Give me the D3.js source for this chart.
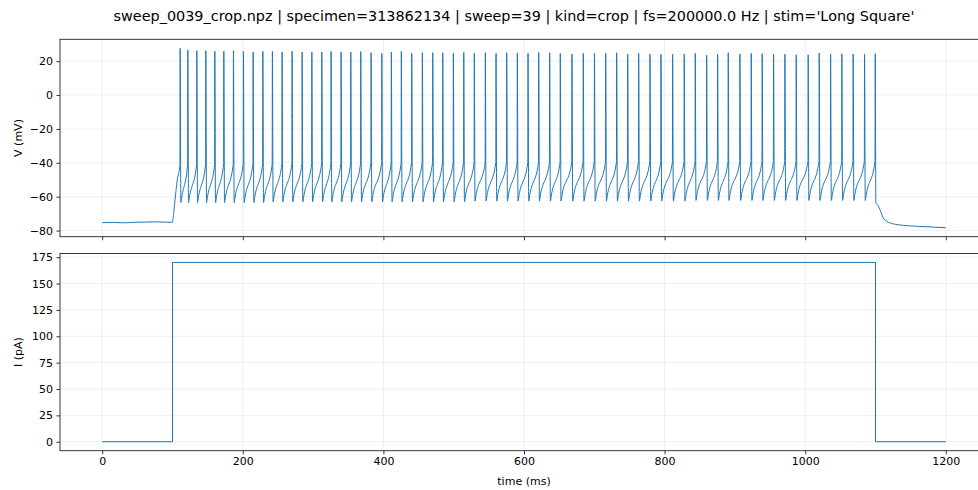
<!DOCTYPE html>
<html>
<head>
<meta charset="utf-8">
<script src="https://cdn.jsdelivr.net/npm/d3@7"></script>
<style>
  body { margin: 0; background: #fff; }
  svg { display: block; }
  text { font-family: "DejaVu Sans", sans-serif; fill: #000; }
</style>
</head>
<body>
<svg id="fig" width="978" height="490"></svg>
<script>
// ---- data -------------------------------------------------------------
const titleText = "sweep_0039_crop.npz | specimen=313862134 | sweep=39 | kind=crop | fs=200000.0 Hz | stim='Long Square'";

const timeTicks = [0, 200, 400, 600, 800, 1000, 1200];
const voltTicks = [-80, -60, -40, -20, 0, 20];
const currTicks = [0, 25, 50, 75, 100, 125, 150, 175];

// membrane potential before the step (t, mV)
const restTrace = [[0, -75.3], [15, -75.2], [30, -75.4], [45, -75.1], [60, -75.0],
                   [75, -74.8], [90, -75.0], [100, -75.1]];
// depolarisation at step onset up to the first spike
const onsetRise = [[100.6, -73.5], [102, -68.5], [103.6, -62], [106.8, -50]];

// action potentials: time of peak (ms) and peak voltage (mV)
const spikeTimes = [110.9, 121.8, 134.6, 147.4, 160.2, 173.0, 186.7, 200.9, 214.7, 228.5,
  242.1, 255.9, 270.1, 284.4, 298.2, 312.4, 325.6, 339.8, 353.6, 367.8,
  382.5, 397.7, 411.3, 425.5, 440.3, 455.4, 470.2, 484.4, 499.5, 514.3,
  529.3, 545.0, 560.2, 575.4, 590.5, 605.7, 620.9, 636.5, 651.6, 668.2,
  684.3, 700.2, 716.2, 731.8, 747.5, 763.1, 779.2, 794.8, 811.4, 827.9,
  843.6, 859.8, 875.4, 890.5, 907.1, 923.2, 938.8, 955.0, 971.1, 987.2,
  1004.2, 1019.9, 1036.1, 1052.1, 1068.2, 1084.4, 1099.6];
const spikePeaks = [27.6, 26.6, 26.2, 26.2, 25.9, 25.9, 26.2, 25.8, 25.4, 25.8,
  25.8, 25.4, 25.8, 25.4, 25.4, 25.4, 25.8, 25.4, 25.4, 25.6,
  25.0, 24.6, 25.4, 25.8, 24.6, 25.0, 25.0, 25.0, 24.6, 25.2,
  24.6, 25.0, 24.6, 25.0, 24.8, 24.6, 25.2, 25.0, 24.6, 24.2,
  24.6, 24.6, 24.6, 25.0, 24.2, 24.6, 24.2, 24.0, 24.2, 24.2,
  24.6, 23.6, 24.2, 25.0, 24.2, 24.6, 24.4, 24.0, 24.2, 23.8,
  23.8, 24.8, 24.2, 24.4, 24.2, 24.2, 24.4];
// voltage where each upstroke takes off (mV)
const spikeThresholds = [-41.2, -41.0, -41.0, -41.0, -41.0, -40.8, -40.8, -40.8, -40.8, -40.8,
  -40.6, -40.6, -40.6, -40.6, -40.6, -40.4, -40.4, -40.4, -40.4, -40.4,
  -40.2, -40.2, -40.2, -40.2, -40.2, -40.0, -40.0, -40.0, -40.0, -40.0,
  -40.0, -40.0, -39.8, -39.8, -39.8, -39.8, -39.8, -39.8, -39.8, -39.8,
  -39.6, -39.6, -39.6, -39.6, -39.6, -39.6, -39.6, -39.6, -39.6, -39.6,
  -39.4, -39.4, -39.4, -39.4, -39.4, -39.4, -39.4, -39.4, -39.4, -39.4,
  -39.3, -39.3, -39.3, -39.3, -39.3, -39.3, -39.2];
// after-hyperpolarisation minimum following each spike (mV)
const spikeTroughs = [-63.4, -63.4, -63.4, -63.4, -63.4, -63.4, -63.4, -63.4, -63.4, -63.4,
  -63.0, -63.0, -63.0, -63.0, -63.0, -63.0, -63.0, -63.0, -63.0, -63.0,
  -63.0, -63.0, -63.0, -63.0, -63.0, -63.0, -63.0, -63.0, -63.0, -63.0,
  -62.6, -62.6, -62.6, -62.6, -62.6, -62.6, -62.6, -62.6, -62.6, -62.6,
  -62.6, -62.6, -62.6, -62.6, -62.6, -62.6, -62.6, -62.6, -62.6, -62.6,
  -62.2, -62.2, -62.2, -62.2, -62.2, -62.2, -62.2, -62.2, -62.2, -62.2,
  -62.2, -62.2, -62.2, -62.2, -62.2, -62.2];
// shape of one spike relative to its peak time (ms offsets)
const upstrokeLead = 0.3, troughLag = 1.0, kneeLag = 2.4, kneeRise = 3.5;
// relaxation after the step ends
const offsetDecay = [[1100.5, -63.6], [1104, -65.5], [1108, -69.5], [1111, -72.5], [1116, -74.5],
  [1125, -76.0], [1140, -76.9], [1160, -77.5], [1180, -77.9], [1200, -78.3]];

// injected current (t, pA)
const stimTimes = [0, 100, 100, 1100, 1100, 1200];
const stimAmps  = [0, 0, 170, 170, 0, 0];

// ---- assemble voltage trace ------------------------------------------
const voltTrace = [...restTrace, ...onsetRise];
spikeTimes.forEach((t, i) => {
  voltTrace.push([t - upstrokeLead, spikeThresholds[i]]);
  voltTrace.push([t, spikePeaks[i]]);
  if (i < spikeTroughs.length) {
    voltTrace.push([t + troughLag, spikeTroughs[i]]);
    voltTrace.push([t + kneeLag, spikeTroughs[i] + kneeRise]);
  }
});
voltTrace.push(...offsetDecay);
const stimTrace = stimTimes.map((t, i) => [t, stimAmps[i]]);

// ---- layout -----------------------------------------------------------
const svg = d3.select("#fig");
const left = 60, right = 988;
const topPanel = { y0: 39.3, y1: 236.7 };
const botPanel = { y0: 253.5, y1: 450.7 };
const blue = "#1f77b4";
const gridCol = "#ebebeb";
const fontPx = 11;

const x = d3.scaleLinear().domain([-60, 1260]).range([left, right]);
const yV = d3.scaleLinear().domain([-83.6, 32.9]).range([topPanel.y1, topPanel.y0]);
const yI = d3.scaleLinear().domain([-8.5, 178.5]).range([botPanel.y1, botPanel.y0]);

svg.append("text")
  .attr("x", 514).attr("y", 21)
  .attr("text-anchor", "middle")
  .style("font-size", "14.4px")
  .text(titleText);

function panel(id, y, yTicks, yFmt, data, curve, strokeW, label, showXLabels) {
  const [y1, y0] = y.range();
  const g = svg.append("g");

  g.append("clipPath").attr("id", id)
    .append("rect").attr("x", left).attr("y", y0).attr("width", right - left).attr("height", y1 - y0);

  // grid
  g.append("g").selectAll("line").data(timeTicks).join("line")
    .attr("x1", d => x(d)).attr("x2", d => x(d))
    .attr("y1", y0).attr("y2", y1)
    .attr("stroke", gridCol).attr("stroke-width", 0.8);
  g.append("g").selectAll("line").data(yTicks).join("line")
    .attr("x1", left).attr("x2", right)
    .attr("y1", d => y(d)).attr("y2", d => y(d))
    .attr("stroke", gridCol).attr("stroke-width", 0.8);

  // trace
  g.append("path")
    .attr("clip-path", `url(#${id})`)
    .attr("d", d3.line().x(d => x(d[0])).y(d => y(d[1])).curve(curve)(data))
    .attr("fill", "none")
    .attr("stroke", blue)
    .attr("stroke-width", strokeW)
    .attr("stroke-linejoin", "round");

  // frame
  g.append("rect")
    .attr("x", left).attr("y", y0).attr("width", right - left).attr("height", y1 - y0)
    .attr("fill", "none").attr("stroke", "#222").attr("stroke-width", 0.9);

  // axes
  const ax = g.append("g").attr("transform", `translate(${left},0)`)
    .call(d3.axisLeft(y).tickValues(yTicks).tickFormat(yFmt).tickSize(3.6).tickPadding(3.4));
  const bx = g.append("g").attr("transform", `translate(0,${y1})`)
    .call(d3.axisBottom(x).tickValues(timeTicks)
      .tickFormat(showXLabels ? d3.format("d") : () => "")
      .tickSize(3.6).tickPadding(3.4));
  [ax, bx].forEach(a => {
    a.select(".domain").remove();
    a.selectAll(".tick line").attr("stroke", "#222").attr("stroke-width", 0.9);
    a.selectAll(".tick text")
      .style("font-size", fontPx + "px")
      .style("font-family", "'DejaVu Sans', sans-serif")
      .attr("fill", "#000");
  });

  svg.append("text")
    .attr("transform", `translate(22,${(y0 + y1) / 2}) rotate(-90)`)
    .attr("text-anchor", "middle")
    .style("font-size", fontPx + "px")
    .text(label);
}

panel("clipV", yV, voltTicks, d3.format("d"), voltTrace, d3.curveMonotoneX, 1.0, "V (mV)", false);
panel("clipI", yI, currTicks, d3.format("d"), stimTrace, d3.curveLinear, 1.0, "I (pA)", true);

svg.append("text")
  .attr("x", (left + right) / 2).attr("y", 485)
  .attr("text-anchor", "middle")
  .style("font-size", fontPx + "px")
  .text("time (ms)");
</script>
</body>
</html>
